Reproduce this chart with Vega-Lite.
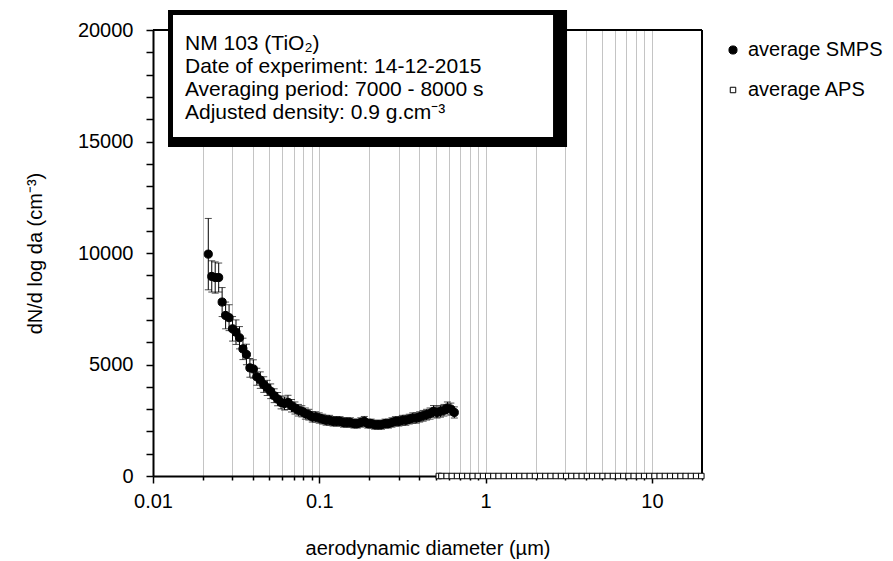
{
  "$schema": "https://vega.github.io/schema/vega-lite/v6.json",
  "width": 549,
  "height": 446,
  "autosize": {"type": "none"},
  "padding": {"left": 153, "top": 30, "right": 191, "bottom": 85},
  "background": "white",
  "config": {
    "view": {"stroke": null},
    "font": "Liberation Sans",
    "axis": {"labelFont": "Liberation Sans", "titleFont": "Liberation Sans", "labelColor": "black", "titleColor": "black", "titleFontWeight": "normal", "labelFontSize": 20, "titleFontSize": 20},
    "legend": {"orient": "none", "legendX": 570, "legendY": 10, "labelFont": "Liberation Sans", "labelFontSize": 20, "labelColor": "black", "rowPadding": 20, "labelOffset": 5, "symbolStrokeWidth": 1, "padding": 0}
  },
  "datasets": {
    "smps": [
      {"x": 0.0215, "y": 9950, "lo": 8350, "hi": 11550, "series": "average SMPS"},
      {"x": 0.02256, "y": 8950, "lo": 8250, "hi": 9650, "series": "average SMPS"},
      {"x": 0.02366, "y": 8900, "lo": 8200, "hi": 9600, "series": "average SMPS"},
      {"x": 0.02483, "y": 8900, "lo": 8250, "hi": 9550, "series": "average SMPS"},
      {"x": 0.02604, "y": 7800, "lo": 7150, "hi": 8450, "series": "average SMPS"},
      {"x": 0.02733, "y": 7200, "lo": 6600, "hi": 7800, "series": "average SMPS"},
      {"x": 0.02867, "y": 7100, "lo": 6520, "hi": 7680, "series": "average SMPS"},
      {"x": 0.03008, "y": 6600, "lo": 6050, "hi": 7150, "series": "average SMPS"},
      {"x": 0.03156, "y": 6450, "lo": 5900, "hi": 7000, "series": "average SMPS"},
      {"x": 0.03311, "y": 6200, "lo": 5700, "hi": 6700, "series": "average SMPS"},
      {"x": 0.03474, "y": 5700, "lo": 5220, "hi": 6180, "series": "average SMPS"},
      {"x": 0.03645, "y": 5450, "lo": 4990, "hi": 5910, "series": "average SMPS"},
      {"x": 0.03824, "y": 4850, "lo": 4430, "hi": 5270, "series": "average SMPS"},
      {"x": 0.04012, "y": 4800, "lo": 4390, "hi": 5210, "series": "average SMPS"},
      {"x": 0.04209, "y": 4450, "lo": 4070, "hi": 4830, "series": "average SMPS"},
      {"x": 0.04416, "y": 4300, "lo": 3930, "hi": 4670, "series": "average SMPS"},
      {"x": 0.04633, "y": 4100, "lo": 3750, "hi": 4450, "series": "average SMPS"},
      {"x": 0.04861, "y": 3950, "lo": 3610, "hi": 4290, "series": "average SMPS"},
      {"x": 0.051, "y": 3800, "lo": 3470, "hi": 4130, "series": "average SMPS"},
      {"x": 0.05351, "y": 3600, "lo": 3290, "hi": 3910, "series": "average SMPS"},
      {"x": 0.05614, "y": 3450, "lo": 3150, "hi": 3750, "series": "average SMPS"},
      {"x": 0.0589, "y": 3300, "lo": 3010, "hi": 3590, "series": "average SMPS"},
      {"x": 0.06179, "y": 3250, "lo": 2960, "hi": 3540, "series": "average SMPS"},
      {"x": 0.06483, "y": 3300, "lo": 2980, "hi": 3620, "series": "average SMPS"},
      {"x": 0.06802, "y": 3150, "lo": 2870, "hi": 3430, "series": "average SMPS"},
      {"x": 0.07136, "y": 3050, "lo": 2780, "hi": 3320, "series": "average SMPS"},
      {"x": 0.07487, "y": 2950, "lo": 2690, "hi": 3210, "series": "average SMPS"},
      {"x": 0.07855, "y": 2900, "lo": 2650, "hi": 3150, "series": "average SMPS"},
      {"x": 0.08241, "y": 2800, "lo": 2550, "hi": 3050, "series": "average SMPS"},
      {"x": 0.08646, "y": 2750, "lo": 2510, "hi": 2990, "series": "average SMPS"},
      {"x": 0.09071, "y": 2650, "lo": 2420, "hi": 2880, "series": "average SMPS"},
      {"x": 0.09517, "y": 2650, "lo": 2420, "hi": 2880, "series": "average SMPS"},
      {"x": 0.09985, "y": 2600, "lo": 2370, "hi": 2830, "series": "average SMPS"},
      {"x": 0.1048, "y": 2550, "lo": 2330, "hi": 2770, "series": "average SMPS"},
      {"x": 0.1099, "y": 2500, "lo": 2280, "hi": 2720, "series": "average SMPS"},
      {"x": 0.1153, "y": 2500, "lo": 2280, "hi": 2720, "series": "average SMPS"},
      {"x": 0.121, "y": 2450, "lo": 2240, "hi": 2660, "series": "average SMPS"},
      {"x": 0.1269, "y": 2450, "lo": 2240, "hi": 2660, "series": "average SMPS"},
      {"x": 0.1332, "y": 2450, "lo": 2240, "hi": 2660, "series": "average SMPS"},
      {"x": 0.1397, "y": 2400, "lo": 2190, "hi": 2610, "series": "average SMPS"},
      {"x": 0.1466, "y": 2400, "lo": 2190, "hi": 2610, "series": "average SMPS"},
      {"x": 0.1538, "y": 2400, "lo": 2190, "hi": 2610, "series": "average SMPS"},
      {"x": 0.1614, "y": 2350, "lo": 2150, "hi": 2550, "series": "average SMPS"},
      {"x": 0.1693, "y": 2350, "lo": 2150, "hi": 2550, "series": "average SMPS"},
      {"x": 0.1776, "y": 2400, "lo": 2190, "hi": 2610, "series": "average SMPS"},
      {"x": 0.1864, "y": 2450, "lo": 2230, "hi": 2670, "series": "average SMPS"},
      {"x": 0.1955, "y": 2350, "lo": 2150, "hi": 2550, "series": "average SMPS"},
      {"x": 0.2051, "y": 2350, "lo": 2150, "hi": 2550, "series": "average SMPS"},
      {"x": 0.215, "y": 2300, "lo": 2100, "hi": 2500, "series": "average SMPS"},
      {"x": 0.2256, "y": 2300, "lo": 2100, "hi": 2500, "series": "average SMPS"},
      {"x": 0.2366, "y": 2300, "lo": 2100, "hi": 2500, "series": "average SMPS"},
      {"x": 0.2483, "y": 2350, "lo": 2150, "hi": 2550, "series": "average SMPS"},
      {"x": 0.2604, "y": 2350, "lo": 2150, "hi": 2550, "series": "average SMPS"},
      {"x": 0.2733, "y": 2400, "lo": 2190, "hi": 2610, "series": "average SMPS"},
      {"x": 0.2867, "y": 2450, "lo": 2240, "hi": 2660, "series": "average SMPS"},
      {"x": 0.3008, "y": 2450, "lo": 2240, "hi": 2660, "series": "average SMPS"},
      {"x": 0.3156, "y": 2500, "lo": 2280, "hi": 2720, "series": "average SMPS"},
      {"x": 0.3311, "y": 2500, "lo": 2280, "hi": 2720, "series": "average SMPS"},
      {"x": 0.3474, "y": 2550, "lo": 2330, "hi": 2770, "series": "average SMPS"},
      {"x": 0.3645, "y": 2600, "lo": 2370, "hi": 2830, "series": "average SMPS"},
      {"x": 0.3824, "y": 2600, "lo": 2370, "hi": 2830, "series": "average SMPS"},
      {"x": 0.4012, "y": 2650, "lo": 2420, "hi": 2880, "series": "average SMPS"},
      {"x": 0.4209, "y": 2700, "lo": 2460, "hi": 2940, "series": "average SMPS"},
      {"x": 0.4416, "y": 2750, "lo": 2510, "hi": 2990, "series": "average SMPS"},
      {"x": 0.4633, "y": 2800, "lo": 2550, "hi": 3050, "series": "average SMPS"},
      {"x": 0.4861, "y": 2900, "lo": 2640, "hi": 3160, "series": "average SMPS"},
      {"x": 0.51, "y": 2850, "lo": 2600, "hi": 3100, "series": "average SMPS"},
      {"x": 0.5351, "y": 2900, "lo": 2640, "hi": 3160, "series": "average SMPS"},
      {"x": 0.5614, "y": 2950, "lo": 2690, "hi": 3210, "series": "average SMPS"},
      {"x": 0.589, "y": 3050, "lo": 2780, "hi": 3320, "series": "average SMPS"},
      {"x": 0.6179, "y": 3000, "lo": 2730, "hi": 3270, "series": "average SMPS"},
      {"x": 0.6483, "y": 2850, "lo": 2600, "hi": 3100, "series": "average SMPS"}
    ],
    "aps": [
      {"x": 0.523, "y": 0, "series": "average APS"}, {"x": 0.542, "y": 0, "series": "average APS"},
      {"x": 0.583, "y": 0, "series": "average APS"}, {"x": 0.626, "y": 0, "series": "average APS"},
      {"x": 0.673, "y": 0, "series": "average APS"}, {"x": 0.723, "y": 0, "series": "average APS"},
      {"x": 0.777, "y": 0, "series": "average APS"}, {"x": 0.835, "y": 0, "series": "average APS"},
      {"x": 0.898, "y": 0, "series": "average APS"}, {"x": 0.965, "y": 0, "series": "average APS"},
      {"x": 1.037, "y": 0, "series": "average APS"}, {"x": 1.114, "y": 0, "series": "average APS"},
      {"x": 1.197, "y": 0, "series": "average APS"}, {"x": 1.286, "y": 0, "series": "average APS"},
      {"x": 1.382, "y": 0, "series": "average APS"}, {"x": 1.486, "y": 0, "series": "average APS"},
      {"x": 1.596, "y": 0, "series": "average APS"}, {"x": 1.715, "y": 0, "series": "average APS"},
      {"x": 1.843, "y": 0, "series": "average APS"}, {"x": 1.981, "y": 0, "series": "average APS"},
      {"x": 2.129, "y": 0, "series": "average APS"}, {"x": 2.288, "y": 0, "series": "average APS"},
      {"x": 2.458, "y": 0, "series": "average APS"}, {"x": 2.642, "y": 0, "series": "average APS"},
      {"x": 2.839, "y": 0, "series": "average APS"}, {"x": 3.051, "y": 0, "series": "average APS"},
      {"x": 3.278, "y": 0, "series": "average APS"}, {"x": 3.523, "y": 0, "series": "average APS"},
      {"x": 3.786, "y": 0, "series": "average APS"}, {"x": 4.068, "y": 0, "series": "average APS"},
      {"x": 4.371, "y": 0, "series": "average APS"}, {"x": 4.698, "y": 0, "series": "average APS"},
      {"x": 5.048, "y": 0, "series": "average APS"}, {"x": 5.425, "y": 0, "series": "average APS"},
      {"x": 5.829, "y": 0, "series": "average APS"}, {"x": 6.264, "y": 0, "series": "average APS"},
      {"x": 6.732, "y": 0, "series": "average APS"}, {"x": 7.234, "y": 0, "series": "average APS"},
      {"x": 7.774, "y": 0, "series": "average APS"}, {"x": 8.354, "y": 0, "series": "average APS"},
      {"x": 8.977, "y": 0, "series": "average APS"}, {"x": 9.647, "y": 0, "series": "average APS"},
      {"x": 10.37, "y": 0, "series": "average APS"}, {"x": 11.14, "y": 0, "series": "average APS"},
      {"x": 11.97, "y": 0, "series": "average APS"}, {"x": 12.86, "y": 0, "series": "average APS"},
      {"x": 13.82, "y": 0, "series": "average APS"}, {"x": 14.86, "y": 0, "series": "average APS"},
      {"x": 15.96, "y": 0, "series": "average APS"}, {"x": 17.15, "y": 0, "series": "average APS"},
      {"x": 18.43, "y": 0, "series": "average APS"}, {"x": 19.81, "y": 0, "series": "average APS"}
    ],
    "vframe": [{"x": 20, "y": 0, "y2": 20000}],
    "hframe": [{"x": 0.01, "x2": 20, "y": 20000}],
    "boxouter": [{"x": 0.01231, "x2": 3.087, "y": 20897, "y2": 14753}],
    "boxinner": [{"x": 0.01319, "x2": 2.543, "y": 20673, "y2": 15202}],
    "boxtext": [
      {"x": 0.01557, "y": 19103, "text": "NM 103 (TiO₂)"},
      {"x": 0.01557, "y": 18072, "text": "Date of experiment: 14-12-2015"},
      {"x": 0.01557, "y": 17040, "text": "Averaging period: 7000 - 8000 s"},
      {"x": 0.01557, "y": 16009, "text": "Adjusted density: 0.9 g.cm⁻³"}
    ]
  },
  "encoding": {
    "x": {
      "field": "x", "type": "quantitative",
      "scale": {"type": "log", "domain": [0.01, 20], "nice": false},
      "axis": {
        "title": "aerodynamic diameter (µm)",
        "values": [0.01, 0.02, 0.03, 0.04, 0.05, 0.06, 0.07, 0.08, 0.09, 0.1, 0.2, 0.3, 0.4, 0.5, 0.6, 0.7, 0.8, 0.9, 1, 2, 3, 4, 5, 6, 7, 8, 9, 10, 20],
        "labelExpr": "indexof([0.01, 0.1, 1, 10], datum.value) >= 0 ? '' + datum.value : ''",
        "labelOverlap": false, "labelFlush": false, "labelBound": false,
        "grid": true, "gridColor": "#c4c4c4", "gridWidth": 1,
        "domainColor": "black", "domainWidth": 2,
        "tickColor": "black", "tickWidth": 1.5,
        "tickSize": {"condition": {"test": "indexof([0.01, 0.1, 1, 10], datum.value) >= 0", "value": 7}, "value": 4},
        "labelPadding": 8, "titlePadding": 27
      }
    },
    "y": {
      "field": "y", "type": "quantitative",
      "scale": {"domain": [0, 20000], "nice": false},
      "axis": {
        "title": "dN/d log da (cm⁻³)",
        "values": [0, 1000, 2000, 3000, 4000, 5000, 6000, 7000, 8000, 9000, 10000, 11000, 12000, 13000, 14000, 15000, 16000, 17000, 18000, 19000, 20000],
        "format": "d",
        "labelExpr": "datum.value % 5000 === 0 ? datum.label : ''",
        "labelOverlap": false, "labelFlush": false, "labelBound": false,
        "grid": false,
        "domainColor": "black", "domainWidth": 2,
        "tickColor": "black", "tickWidth": 1.5, "tickSize": 7,
        "labelPadding": 13, "titlePadding": 32
      }
    }
  },
  "layer": [
    {
      "data": {"name": "vframe"},
      "mark": {"type": "rule", "color": "black", "strokeWidth": 2},
      "encoding": {"y2": {"field": "y2"}}
    },
    {
      "data": {"name": "hframe"},
      "mark": {"type": "rule", "color": "black", "strokeWidth": 2},
      "encoding": {"x2": {"field": "x2"}}
    },
    {
      "data": {"name": "smps"},
      "mark": {"type": "errorbar", "color": "black", "thickness": 1, "ticks": {"color": "black", "size": 7, "thickness": 1}},
      "encoding": {
        "y": {"field": "lo", "type": "quantitative", "scale": {"domain": [0, 20000], "nice": false}, "title": "dN/d log da (cm⁻³)"},
        "y2": {"field": "hi"}
      }
    },
    {
      "data": {"name": "smps"},
      "mark": {"type": "point", "strokeWidth": 1, "opacity": 1},
      "encoding": {
        "shape": {"field": "series", "type": "nominal", "scale": {"domain": ["average SMPS", "average APS"], "range": ["circle", "square"]}, "legend": {"title": null}},
        "fill": {"field": "series", "type": "nominal", "scale": {"domain": ["average SMPS", "average APS"], "range": ["black", "white"]}, "legend": {"title": null}},
        "stroke": {"field": "series", "type": "nominal", "scale": {"domain": ["average SMPS", "average APS"], "range": ["black", "black"]}, "legend": {"title": null}},
        "size": {"field": "series", "type": "nominal", "scale": {"domain": ["average SMPS", "average APS"], "range": [66, 30]}, "legend": {"title": null}}
      }
    },
    {
      "data": {"name": "aps"},
      "mark": {"type": "point", "strokeWidth": 1, "opacity": 1},
      "encoding": {
        "shape": {"field": "series", "type": "nominal", "scale": {"domain": ["average SMPS", "average APS"], "range": ["circle", "square"]}, "legend": {"title": null}},
        "fill": {"field": "series", "type": "nominal", "scale": {"domain": ["average SMPS", "average APS"], "range": ["black", "white"]}, "legend": {"title": null}},
        "stroke": {"field": "series", "type": "nominal", "scale": {"domain": ["average SMPS", "average APS"], "range": ["black", "black"]}, "legend": {"title": null}},
        "size": {"field": "series", "type": "nominal", "scale": {"domain": ["average SMPS", "average APS"], "range": [66, 30]}, "legend": {"title": null}}
      }
    },
    {
      "data": {"name": "boxouter"},
      "mark": {"type": "rect", "color": "black"},
      "encoding": {"x2": {"field": "x2"}, "y2": {"field": "y2"}}
    },
    {
      "data": {"name": "boxinner"},
      "mark": {"type": "rect", "color": "white", "opacity": 1},
      "encoding": {"x2": {"field": "x2"}, "y2": {"field": "y2"}}
    },
    {
      "data": {"name": "boxtext"},
      "mark": {"type": "text", "align": "left", "baseline": "alphabetic", "fontSize": 21, "font": "Liberation Sans", "color": "black"},
      "encoding": {"text": {"field": "text"}}
    }
  ],
  "resolve": {"scale": {"shape": "shared", "fill": "shared", "size": "shared", "stroke": "shared"}}
}
